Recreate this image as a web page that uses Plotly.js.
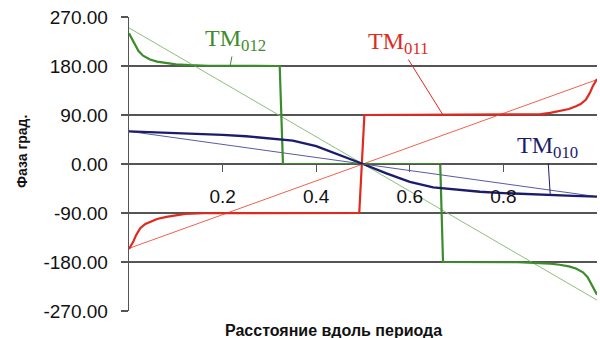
<!DOCTYPE html>
<html>
<head>
<meta charset="utf-8">
<script src="https://cdn.plot.ly/plotly-3.0.1.min.js"></script>
<style>
  html, body { margin: 0; padding: 0; background: #fff; }
  #chart { width: 600px; height: 338px; }
</style>
</head>
<body>
<div id="chart"></div>
<script>
// Phase along the period for TM010, TM011, TM012 modes (degrees)
const tm012X = [0, 0.005, 0.012, 0.02, 0.03, 0.045, 0.06, 0.08, 0.1, 0.13, 0.17, 0.322, 0.329,
                0.665, 0.671, 0.83, 0.87, 0.9, 0.92, 0.94, 0.955, 0.97, 0.98, 0.988, 0.995, 1];
const tm012Y = [240, 232, 220, 208, 199, 192, 188, 185, 183, 181.5, 180.5, 180, 0,
                0, -180, -180.5, -181.5, -183, -185, -188, -192, -199, -208, -220, -232, -240];

const tm011X = [0, 0.004, 0.009, 0.015, 0.024, 0.035, 0.045, 0.06, 0.08, 0.1, 0.12, 0.16, 0.492,
                0.503, 0.84, 0.88, 0.9, 0.92, 0.94, 0.955, 0.965, 0.976, 0.985, 0.991, 0.996, 1];
const tm011Y = [-156, -150, -143, -131, -118, -110, -106, -101, -97, -94, -91.5, -90.5, -90,
                90, 90.5, 91.5, 94, 97, 101, 106, 110, 118, 131, 143, 150, 156];

const tm010X = [0, 0.05, 0.1, 0.15, 0.2, 0.25, 0.3, 0.35, 0.4, 0.45, 0.5,
                0.55, 0.6, 0.65, 0.7, 0.75, 0.8, 0.85, 0.9, 0.95, 1];
const tm010Y = [60, 58.5, 57, 55.5, 53.5, 51, 47.5, 43, 33, 17, 0,
                -17, -33, -43, -47.5, -51, -53.5, -55.5, -57, -58.5, -60];

// Linear phase references
const linX = [0, 1];
const lin012Y = [250, -250];
const lin011Y = [-155, 155];
const lin010Y = [60, -60];

const yTicks = [-270, -180, -90, 0, 90, 180, 270];
const yTickText = ['-270.00', '-180.00', '-90.00', '0.00', '90.00', '180.00', '270.00'];
const xTicks = [0.2, 0.4, 0.6, 0.8];
const xTickText = ['0.2', '0.4', '0.6', '0.8'];

const green = '#3c8c2c', red = '#e02a1e', navy = '#1c1c6c';

const traces = [
  {x: linX, y: lin012Y, mode: 'lines', line: {color: '#8dbf7c', width: 1}},
  {x: linX, y: lin011Y, mode: 'lines', line: {color: '#f0624e', width: 1}},
  {x: linX, y: lin010Y, mode: 'lines', line: {color: '#5a5aa4', width: 1}},
  {x: tm012X, y: tm012Y, mode: 'lines', line: {color: green, width: 2.2}},
  {x: tm011X, y: tm011Y, mode: 'lines', line: {color: red, width: 2.2}},
  {x: tm010X, y: tm010Y, mode: 'lines', line: {color: navy, width: 2.4}}
];

const labelFont = (c) => ({family: 'Liberation Serif, Times New Roman, serif', size: 24, color: c});
const sans = 'Liberation Sans, Arial, sans-serif';

const layout = {
  width: 600, height: 338,
  margin: {l: 129, r: 3, t: 17, b: 27, pad: 0},
  paper_bgcolor: '#fff', plot_bgcolor: '#fff',
  showlegend: false,
  xaxis: {
    range: [0, 1], tickvals: xTicks, ticktext: xTickText,
    anchor: 'free', position: 0.5,
    showgrid: false, zeroline: false,
    showline: true, linecolor: '#555', linewidth: 1.3,
    ticks: 'outside', ticklen: 7, tickcolor: '#555', tickwidth: 1.3,
    ticklabelstandoff: 8,
    tickfont: {family: sans, size: 19, color: '#111'}
  },
  yaxis: {
    range: [-270, 270], tickvals: yTicks, ticktext: yTickText,
    showgrid: true, gridcolor: '#555', gridwidth: 1.3,
    zeroline: false,
    showline: true, linecolor: '#555', linewidth: 1.3,
    ticks: 'outside', ticklen: 7, tickcolor: '#555', tickwidth: 1.3,
    ticklabelstandoff: 9,
    tickfont: {family: sans, size: 19, color: '#111'}
  },
  annotations: [
    {x: 0.216, y: 180, xref: 'x', yref: 'y', text: 'TM<sub>012</sub>',
     showarrow: true, arrowhead: 0, arrowwidth: 1, arrowcolor: green,
     ax: 5, ay: -26, font: labelFont(green)},
    {x: 0.671, y: 90, xref: 'x', yref: 'y', text: 'TM<sub>011</sub>',
     showarrow: true, arrowhead: 0, arrowwidth: 1, arrowcolor: red,
     ax: -45, ay: -72, font: labelFont(red)},
    {x: 0.9, y: -55, xref: 'x', yref: 'y', text: 'TM<sub>010</sub>',
     showarrow: true, arrowhead: 0, arrowwidth: 1, arrowcolor: navy,
     ax: -3, ay: -47, font: labelFont(navy)},
    {x: -0.2286, y: 0.541, xref: 'paper', yref: 'paper', text: '<b>Фаза град.</b>',
     xanchor: 'center', yanchor: 'middle',
     showarrow: false, textangle: -90,
     font: {family: sans, size: 14, color: '#111'}},
    {x: 0.438, y: -0.065, xref: 'paper', yref: 'paper', text: '<b>Расстояние вдоль периода</b>',
     xanchor: 'center', yanchor: 'middle',
     showarrow: false,
     font: {family: sans, size: 16, color: '#111'}}
  ]
};

Plotly.newPlot('chart', traces, layout, {staticPlot: true, displayModeBar: false});
</script>
</body>
</html>
